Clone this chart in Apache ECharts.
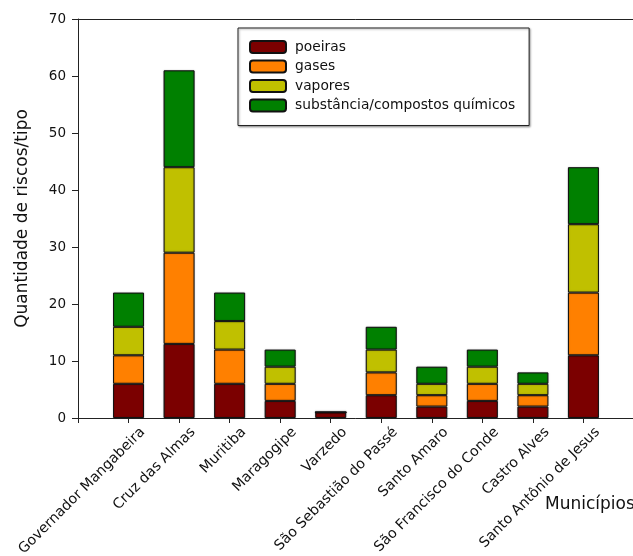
<!DOCTYPE html>
<html>
<head>
<meta charset="utf-8">
<script src="https://cdn.jsdelivr.net/npm/echarts@6/dist/echarts.min.js"></script>
<style>
  html, body { margin: 0; padding: 0; background: #fff; }
  #chart { width: 633px; height: 556px; }
</style>
</head>
<body>
<div id="chart"></div>
<script>
// Municípios (one stacked bar each)
const categories = [
  'Governador Mangabeira', 'Cruz das Almas', 'Muritiba', 'Maragogipe', 'Varzedo',
  'São Sebastião do Passé', 'Santo Amaro', 'São Francisco do Conde', 'Castro Alves',
  'Santo Antônio de Jesus'
];

// Quantidade de riscos por tipo
const poeiras  = [6, 13, 6, 3, 1, 4, 2, 3, 2, 11];
const gases    = [5, 16, 6, 3, 0, 4, 2, 3, 2, 11];
const vapores  = [5, 15, 5, 3, 0, 4, 2, 3, 2, 12];
const quimicos = [6, 17, 5, 3, 0, 4, 3, 3, 2, 10];

const seriesNames = ['poeiras', 'gases', 'vapores', 'substância/compostos químicos'];
const seriesColors = ['#7b0000', '#ff8000', '#c0c000', '#008000'];

// y-axis ticks
const yTicks = [0, 10, 20, 30, 40, 50, 60, 70];

const FONT = 'DejaVu Sans';

// the bar axis has an empty slot at each end, so bars sit on ticks 1..n
const slots = [''].concat(categories, ['']);
const pad = arr => [null].concat(arr, [null]);

// labels are drawn by an overlaid value axis (same 0..n+1 extent), nudged right of each tick
const labelShift = 0.28;
const labelPositions = categories.map((_, i) => i + 1 + labelShift);

const chart = echarts.init(document.getElementById('chart'), null, { renderer: 'canvas' });

const values = [poeiras, gases, vapores, quimicos];
const series = values.map((arr, k) => ({
  name: seriesNames[k],
  type: 'bar',
  stack: 'total',
  barWidth: 31,
  xAxisIndex: 0,
  data: pad(arr),
  itemStyle: {
    color: seriesColors[k],
    borderColor: '#111',
    borderWidth: 1,
    shadowColor: 'rgba(0,0,0,0.35)',
    shadowBlur: 1.5
  },
  emphasis: { disabled: true }
}));

const axisLineStyle = { color: '#222', width: 1 };

chart.setOption({
  animation: false,
  backgroundColor: '#fff',
  textStyle: { fontFamily: FONT },
  grid: { left: 78, top: 19, width: 556, bottom: 138, containLabel: false, outerBoundsMode: 'none' },
  legend: {
    orient: 'vertical',
    left: 238,
    top: 28,
    data: seriesNames,
    itemWidth: 36,
    itemHeight: 12,
    itemGap: 5.5,
    padding: [12, 14, 13, 11],
    borderColor: '#222',
    borderWidth: 1,
    backgroundColor: '#fff',
    shadowColor: 'rgba(0,0,0,0.35)',
    shadowBlur: 2,
    shadowOffsetX: 1,
    shadowOffsetY: 1,
    selectedMode: false,
    textStyle: { fontFamily: FONT, fontSize: 13.8, color: '#111', lineHeight: 14, padding: [0, 0, 0, 4] }
  },
  xAxis: [{
    // bar axis
    type: 'category',
    data: slots,
    boundaryGap: false,
    splitLine: { show: false },
    axisLine: { show: true, onZero: false, lineStyle: axisLineStyle },
    axisTick: { show: true, inside: false, length: 5, interval: 0, lineStyle: { color: '#222' } },
    axisLabel: { show: false }
  }, {
    // label axis, same extent as the bar axis
    type: 'value',
    position: 'bottom',
    min: 0,
    max: slots.length - 1,
    splitLine: { show: false },
    axisLine: { show: false },
    axisTick: { show: false },
    axisLabel: {
      show: true,
      customValues: labelPositions,
      rotate: 45,
      margin: 12,
      fontFamily: FONT,
      fontSize: 14.2,
      color: '#111',
      formatter: v => categories[Math.round(v - labelShift) - 1] || ''
    }
  }, {
    // upper frame line
    type: 'value',
    position: 'top',
    min: 0,
    max: slots.length - 1,
    splitLine: { show: false },
    axisLine: { show: true, onZero: false, lineStyle: axisLineStyle },
    axisTick: { show: false },
    axisLabel: { show: false }
  }],
  yAxis: {
    type: 'value',
    min: yTicks[0],
    max: yTicks[yTicks.length - 1],
    interval: 10,
    name: 'Quantidade de riscos/tipo',
    nameLocation: 'middle',
    nameGap: 47,
    nameTextStyle: { fontFamily: FONT, fontSize: 17, color: '#111' },
    splitLine: { show: false },
    axisLine: { show: true, onZero: false, lineStyle: axisLineStyle },
    axisTick: { show: true, inside: false, length: 6, lineStyle: { color: '#222' } },
    axisLabel: { margin: 12, fontFamily: FONT, fontSize: 13.5, color: '#111' }
  },
  graphic: [{
    type: 'text',
    left: 545,
    top: 496,
    style: { text: 'Municípios', fontFamily: FONT, fontSize: 17, fill: '#111' }
  }],
  series: series
});
</script>
</body>
</html>
